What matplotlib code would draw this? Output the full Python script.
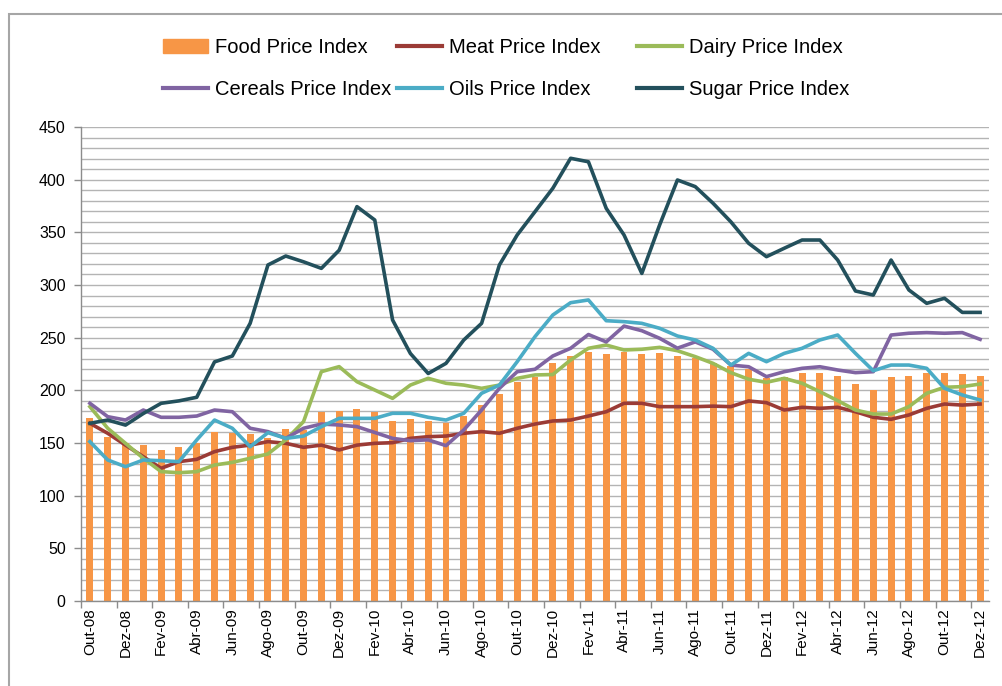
import numpy as np
import matplotlib
matplotlib.use("Agg")
import matplotlib.pyplot as plt
from matplotlib.patches import Patch, Rectangle
from matplotlib.lines import Line2D

plt.rcParams['font.family'] = ['Liberation Sans', 'DejaVu Sans']

# ---- data ----
months = ["Out-08", "Nov-08", "Dez-08", "Jan-09", "Fev-09", "Mar-09", "Abr-09", "Mai-09", "Jun-09",
          "Jul-09", "Ago-09", "Set-09", "Out-09", "Nov-09", "Dez-09", "Jan-10", "Fev-10", "Mar-10",
          "Abr-10", "Mai-10", "Jun-10", "Jul-10", "Ago-10", "Set-10", "Out-10", "Nov-10", "Dez-10",
          "Jan-11", "Fev-11", "Mar-11", "Abr-11", "Mai-11", "Jun-11", "Jul-11", "Ago-11", "Set-11",
          "Out-11", "Nov-11", "Dez-11", "Jan-12", "Fev-12", "Mar-12", "Abr-12", "Mai-12", "Jun-12",
          "Jul-12", "Ago-12", "Set-12", "Out-12", "Nov-12", "Dez-12"]

food = [173.5, 156, 149.7, 148, 143.4, 146, 149.7, 160.8, 159.8, 158.5, 155, 163, 162, 179.7, 180.7,
        182.3, 179.7, 171.2, 172.5, 171, 169.3, 175.6, 186, 196.5, 207.6, 213, 225.6, 232.6, 236.7,
        234.5, 236.7, 234.5, 235, 232.6, 230.4, 225.6, 223, 220, 211.4, 213, 216.8, 216.8, 214, 205.7,
        200.3, 213, 214, 216.8, 216.8, 215.5, 214]

meat = [168.7, 159.2, 148, 137, 126, 132.3, 134.5, 141.8, 145.9, 148, 151.3, 149.7, 145.9, 148, 143.4,
        148, 149.7, 150.3, 154.4, 156, 156.6, 159.2, 160.8, 159.2, 164, 168, 170.9, 171.8, 175.6, 179.7,
        187.7, 187.7, 184.5, 184.5, 184.5, 185, 184.5, 189.9, 188.3, 181.3, 183.9, 182.9, 183.9, 179.7,
        174.4, 172.5, 176.6, 182.9, 187, 186, 187]

dairy = [184.5, 164, 149.7, 135.5, 122.8, 121.8, 122.8, 129.1, 131.6, 135.5, 139.6, 152.9, 170.3, 217.7,
         222.5, 208.2, 200.3, 192.4, 205, 211.4, 206.7, 205, 201.9, 205, 211.4, 214.6, 215, 228.8, 239.9,
         243, 238.3, 239, 240.8, 237.6, 232, 225.6, 216.8, 210.5, 207.6, 211.4, 206.7, 198.7, 190.2,
         181.3, 177.5, 177.5, 184.5, 197.2, 202.9, 203.5, 206]

cereals = [187.7, 175, 171.8, 181.3, 174.4, 174.4, 175.6, 181.3, 179.7, 164, 160.8, 154.4, 164, 168, 167.1,
           165.5, 160, 154.4, 152.2, 153, 147.5, 162.4, 181.3, 201.9, 217.7, 220, 232.6, 239.9, 253, 246,
           261, 256.6, 249.4, 240, 246, 239, 224, 222.4, 213, 217.7, 220.9, 222.4, 219.3, 216.8, 217.7,
           252.5, 254.2, 254.8, 254.2, 254.8, 248.4]

oils = [151.3, 133.9, 127.5, 133.9, 133.2, 132.3, 152.9, 171.8, 164, 146.5, 159.8, 154.4, 156.6, 165.5,
        173.4, 173.4, 173.4, 178.2, 178.2, 174.4, 171.8, 178.2, 197.2, 205, 227.2, 251, 271.5, 283.2,
        285.8, 266.1, 265.2, 263.6, 258.9, 251.6, 247.8, 239.9, 224, 235.1, 227.2, 235.1, 239.9, 247.8,
        252.5, 235.1, 218.6, 224, 224, 220.9, 201.9, 195.6, 190.8]

sugar = [168.7, 171.8, 167, 178, 187.7, 190, 193.4, 227, 232.6, 263.6, 319, 327.5, 322, 315.8, 333,
         374.4, 361.7, 266.8, 235, 216, 225.6, 247.8, 263.6, 319, 347.5, 369.6, 391.8, 420.3, 417, 372.8,
         347.5, 311, 357, 399.7, 393.4, 377.6, 360, 339.6, 326.9, 334.9, 342.7, 342.7, 323.7, 294.3,
         290.5, 323.7, 295.3, 282.6, 287.4, 274, 274]

series_names = ["Food Price Index", "Meat Price Index", "Dairy Price Index",
                "Cereals Price Index", "Oils Price Index", "Sugar Price Index"]

# ---- style ----
c_food = "#F79646"
c_meat = "#9B3B36"
c_dairy = "#9BBB59"
c_cereals = "#8064A2"
c_oils = "#4BACC6"
c_sugar = "#23505C"
grid_c = "#B4B4B4"
axis_c = "#8C8C8C"

W, H = 1003, 686
fig = plt.figure(figsize=(W / 100, H / 100), dpi=100)
fig.patch.set_facecolor("white")

# outer border of chart area
fig.add_artist(Rectangle((9 / W, -0.05), 1.1, 1 - 14 / H + 0.05, transform=fig.transFigure,
                         fill=False, edgecolor="#A6A6A6", linewidth=1.5))

L, R, T, B = 81, 989, 127, 601
ax = fig.add_axes([L / W, 1 - B / H, (R - L) / W, (B - T) / H])

x = np.arange(len(months))
ax.bar(x, food, width=0.39, color=c_food, zorder=2)
lw = 2.6
ax.plot(x, meat, color=c_meat, lw=lw, zorder=3, solid_joinstyle="round")
ax.plot(x, dairy, color=c_dairy, lw=lw, zorder=3, solid_joinstyle="round")
ax.plot(x, cereals, color=c_cereals, lw=lw, zorder=3, solid_joinstyle="round")
ax.plot(x, oils, color=c_oils, lw=lw, zorder=3, solid_joinstyle="round")
ax.plot(x, sugar, color=c_sugar, lw=lw, zorder=4, solid_joinstyle="round")

ax.set_xlim(-0.5, len(months) - 0.5)
ax.set_ylim(0, 450)
ax.set_yticks(np.arange(0, 451, 50))
ax.set_yticks(np.arange(0, 451, 10), minor=True)
ax.yaxis.grid(True, which="both", color=grid_c, linewidth=1.0)
ax.set_axisbelow(True)

ax.set_xticks(x[::2])
ax.set_xticklabels(months[::2], rotation=90)
ax.set_xticks(np.arange(-0.5, len(months) - 1, 2), minor=True)

ax.tick_params(axis="x", which="major", length=0, pad=5, labelsize=11)
ax.tick_params(axis="x", which="minor", length=5, color=axis_c, width=1)
ax.tick_params(axis="y", which="major", length=5, color=axis_c, width=1, labelsize=11.5, pad=6)
ax.tick_params(axis="y", which="minor", length=0)

for s in ["top", "right"]:
    ax.spines[s].set_visible(False)
for s in ["left", "bottom"]:
    ax.spines[s].set_color(axis_c)
    ax.spines[s].set_linewidth(1)

# ---- legend (3 columns x 2 rows) ----
handles = [Patch(facecolor=c_food, edgecolor=c_food),
           Line2D([], [], color=c_meat, lw=3),
           Line2D([], [], color=c_dairy, lw=3),
           Line2D([], [], color=c_cereals, lw=3),
           Line2D([], [], color=c_oils, lw=3),
           Line2D([], [], color=c_sugar, lw=3)]
col_x = [163, 397, 637]
for c in range(3):
    fig.legend([handles[c], handles[c + 3]], [series_names[c], series_names[c + 3]],
               loc="upper left", bbox_to_anchor=(col_x[c] / W, 1 - 38 / H),
               frameon=False, fontsize=14.5, handlelength=2.25, handletextpad=0.33,
               labelspacing=1.15, borderpad=0, borderaxespad=0)

fig.savefig("out.png", dpi=100, facecolor="white")
